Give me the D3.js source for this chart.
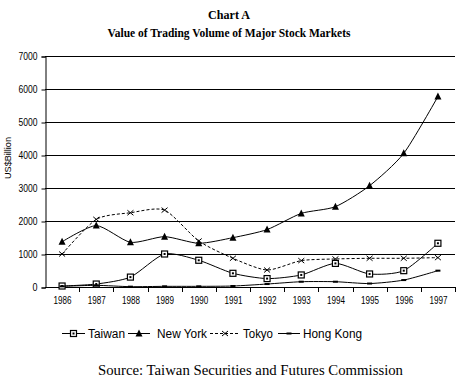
<!DOCTYPE html>
<html><head><meta charset="utf-8">
<script src="https://cdn.jsdelivr.net/npm/d3@7"></script>
<style>body{margin:0;background:#fff}svg{display:block}</style>
</head><body>
<svg id="c" width="458" height="383"></svg>
<script>
const years = ["1986","1987","1988","1989","1990","1991","1992","1993","1994","1995","1996","1997"];
const taiwan  = [30, 90, 300, 1000, 810, 415, 255, 365, 715, 395, 495, 1325];
const newYork = [1370, 1860, 1355, 1525, 1325, 1495, 1740, 2230, 2435, 3070, 4050, 5770];
const tokyo   = [1000, 2050, 2250, 2330, 1395, 870, 515, 800, 850, 870, 870, 890];
const hongKong= [20, 50, 10, 20, 20, 30, 90, 160, 160, 105, 210, 495];
const yTicks  = [0,1000,2000,3000,4000,5000,6000,7000];

const svg = d3.select("#c");
const L=45,R=455,T=56,B=287;
const x = d3.scaleBand().domain(years).range([L,R]);
const y = d3.scaleLinear().domain([0,7000]).range([B,T]);
const cx = d => x(d)+x.bandwidth()/2;
const sans = "Liberation Sans, Arial, sans-serif";
const serif = "Liberation Serif, Times New Roman, serif";

// titles
svg.append("text").attr("x",229).attr("y",19).attr("text-anchor","middle")
  .attr("font-family",serif).attr("font-weight","bold")
  .attr("font-size",12).attr("textLength",42).attr("lengthAdjust","spacingAndGlyphs").text("Chart A");
svg.append("text").attr("x",229).attr("y",37).attr("text-anchor","middle")
  .attr("font-family",serif).attr("font-weight","bold")
  .attr("font-size",12).attr("textLength",243).attr("lengthAdjust","spacingAndGlyphs")
  .text("Value of Trading Volume of Major Stock Markets");

// gridlines
svg.append("g").selectAll("line").data(yTicks).join("line")
  .attr("x1",L).attr("x2",R).attr("y1",d=>y(d)+0.5).attr("y2",d=>y(d)+0.5)
  .attr("stroke","#000").attr("stroke-width",1);

// y axis
const ya = svg.append("g").attr("transform",`translate(${L+0.5},0.5)`)
  .call(d3.axisLeft(y).tickValues(yTicks).tickSize(4).tickPadding(4).tickFormat(d3.format("d")));
ya.select(".domain").attr("stroke","#000");
ya.selectAll("text").attr("font-family",sans)
  .attr("font-size",10).attr("fill","#000")
  .attr("textLength",d=>d===0?5:19).attr("lengthAdjust","spacingAndGlyphs");

// x axis
const xa = svg.append("g").attr("transform",`translate(0.5,${B+0.5})`)
  .call(d3.axisBottom(x).tickSize(0).tickPadding(9));
xa.select(".domain").remove();
xa.selectAll("text").attr("font-family",sans)
  .attr("font-size",10).attr("fill","#000")
  .attr("textLength",18).attr("lengthAdjust","spacingAndGlyphs");
svg.append("g").selectAll("line").data(years).join("line")
  .attr("x1",(d,i)=>Math.round(L+(i+1)*x.bandwidth())+0.5)
  .attr("x2",(d,i)=>Math.round(L+(i+1)*x.bandwidth())+0.5)
  .attr("y1",B).attr("y2",B+5).attr("stroke","#000");

// y label
svg.append("text").attr("transform","translate(11,158) rotate(-90)").attr("text-anchor","middle")
  .attr("font-family",sans).attr("font-size",9)
  .attr("textLength",42).attr("lengthAdjust","spacingAndGlyphs").text("US$Billion");

// lines
const line = d3.line().x((d,i)=>cx(years[i])).y(d=>y(d)).curve(d3.curveCardinal.tension(0.3));
const series = [
  {name:"Taiwan", data:taiwan, dash:null, m:"sq"},
  {name:"New York", data:newYork, dash:null, m:"tri"},
  {name:"Tokyo", data:tokyo, dash:"3,2", m:"x"},
  {name:"Hong Kong", data:hongKong, dash:null, m:"dash"}
];
function marker(g, type, px, py){
  if(type==="sq"){
    g.append("rect").attr("x",px-3).attr("y",py-3).attr("width",6).attr("height",6)
      .attr("fill","#fff").attr("stroke","#000").attr("stroke-width",1.2);
    g.append("rect").attr("x",px-1).attr("y",py-1).attr("width",2).attr("height",2).attr("fill","#000");
  } else if(type==="tri"){
    g.append("path").attr("d",`M${px},${py-4}L${px+3.5},${py+3}L${px-3.5},${py+3}Z`).attr("fill","#000");
  } else if(type==="x"){
    g.append("path").attr("d",`M${px-3},${py-2.5}L${px+3},${py+2.5}M${px-3},${py+2.5}L${px+3},${py-2.5}`)
      .attr("stroke","#000").attr("stroke-width",1);
  } else {
    g.append("rect").attr("x",px-2.5).attr("y",py-1).attr("width",5).attr("height",2).attr("fill","#000");
  }
}
series.forEach(s=>{
  svg.append("path").datum(s.data).attr("d",line).attr("fill","none")
    .attr("stroke","#000").attr("stroke-width",1).attr("stroke-dasharray",s.dash);
  const g = svg.append("g");
  s.data.forEach((v,i)=>marker(g,s.m,cx(years[i]),y(v)));
});

// legend
const legX = [62,128,210,278];
const legTextX = [88,157,243,303];
const legW = [23,22,30,22];
const legTW = [37,50,30,59];
const ly = 333;
series.forEach((s,i)=>{
  const g = svg.append("g");
  g.append("line").attr("x1",legX[i]).attr("x2",legX[i]+legW[i]).attr("y1",ly+0.5).attr("y2",ly+0.5)
    .attr("stroke","#000").attr("stroke-width",1).attr("stroke-dasharray",s.dash);
  marker(g,s.m,legX[i]+legW[i]/2,ly+0.5);
  g.append("text").attr("x",legTextX[i]).attr("y",ly+5)
    .attr("font-family",sans).attr("font-size",12.5)
    .attr("textLength",legTW[i]).attr("lengthAdjust","spacingAndGlyphs").text(s.name);
});

// source
svg.append("text").attr("x",98).attr("y",375)
  .attr("font-family",serif).attr("font-size",14)
  .attr("textLength",305).attr("lengthAdjust","spacingAndGlyphs")
  .text("Source:  Taiwan Securities and Futures Commission");
</script>
</body></html>
